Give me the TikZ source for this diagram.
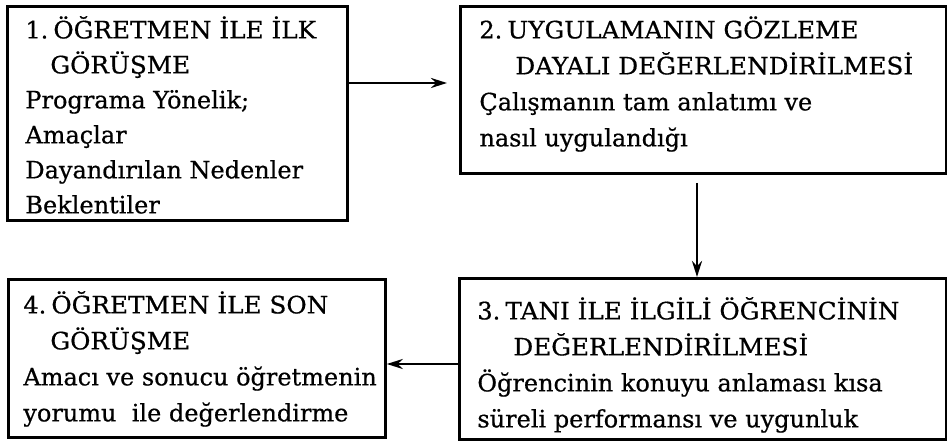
\documentclass[tikz,border=0pt]{standalone}
\usepackage{fontspec}
\setmainfont{DejaVu Serif}[FakeBold=0.6]
\newfontfamily\ttlfont{DejaVu Serif}[FakeBold=0.6,FakeStretch=1.03]
\usetikzlibrary{arrows.meta}
\tikzset{
  box/.style={draw, line width=1.4pt, rectangle, inner sep=0pt, anchor=north west},
  txt/.style={anchor=north west, inner sep=0pt, align=left, font=\fontsize{12}{18}\selectfont},
  conn/.style={line width=1.4pt, -{Stealth[length=8pt,width=5pt]}}
}
\newcommand{\hd}[1]{\makebox[14pt][l]{#1}}
\newcommand{\ind}[1]{\hspace*{#1}}
\newcommand{\tl}[1]{{\ttlfont #1}}
\begin{document}
\begin{tikzpicture}[x=0.5pt,y=-0.5pt]
\useasboundingbox (0,0) rectangle (947,442);
\node[box, minimum width=170pt, minimum height=107pt] (b1) at (6,5) {};
\node[box, minimum width=243pt, minimum height=83.5pt] (b2) at (459,5) {};
\node[box, minimum width=243.5pt, minimum height=80.5pt] (b3) at (458,277) {};
\node[box, minimum width=188.5pt, minimum height=79pt] (b4) at (7,278) {};

\node[txt, font=\fontsize{12}{17.5}\selectfont] (t1) at (25,13.5) {\strut\hd{1.}\tl{ÖĞRETMEN İLE İLK}\\ \ind{12.5pt}\tl{GÖRÜŞME}\\ Programa Yönelik;\\ Amaçlar\\ Dayandırılan Nedenler\\ Beklentiler};
\node[txt] (t2) at (479,12.8) {\strut\hd{2.}\tl{UYGULAMANIN GÖZLEME}\\ \ind{18pt}\tl{DAYALI DEĞERLENDİRİLMESİ}\\ Çalışmanın tam anlatımı ve\\ nasıl uygulandığı};
\node[txt] (t3) at (477,293.8) {\strut\hd{3.}\tl{TANI İLE İLGİLİ ÖĞRENCİNİN}\\ \ind{18pt}\tl{DEĞERLENDİRİLMESİ}\\ Öğrencinin konuyu anlaması kısa\\ süreli performansı ve uygunluk};
\node[txt] (t4) at (23,287.8) {\strut\hd{4.}\tl{ÖĞRETMEN İLE SON}\\ \ind{13.5pt}\tl{GÖRÜŞME}\\ Amacı ve sonucu öğretmenin\\ yorumu\ \ ile değerlendirme};

\draw[conn] (b1.east |- 0,83) -- ([xshift=-6pt]b2.west |- 0,83);
\draw[conn] ([yshift=-4pt]b2.south -| 697,0) -- (b3.north -| 697,0);
\draw[conn] (b3.west |- 0,364) -- (b4.east |- 0,364);
\end{tikzpicture}
\end{document}
